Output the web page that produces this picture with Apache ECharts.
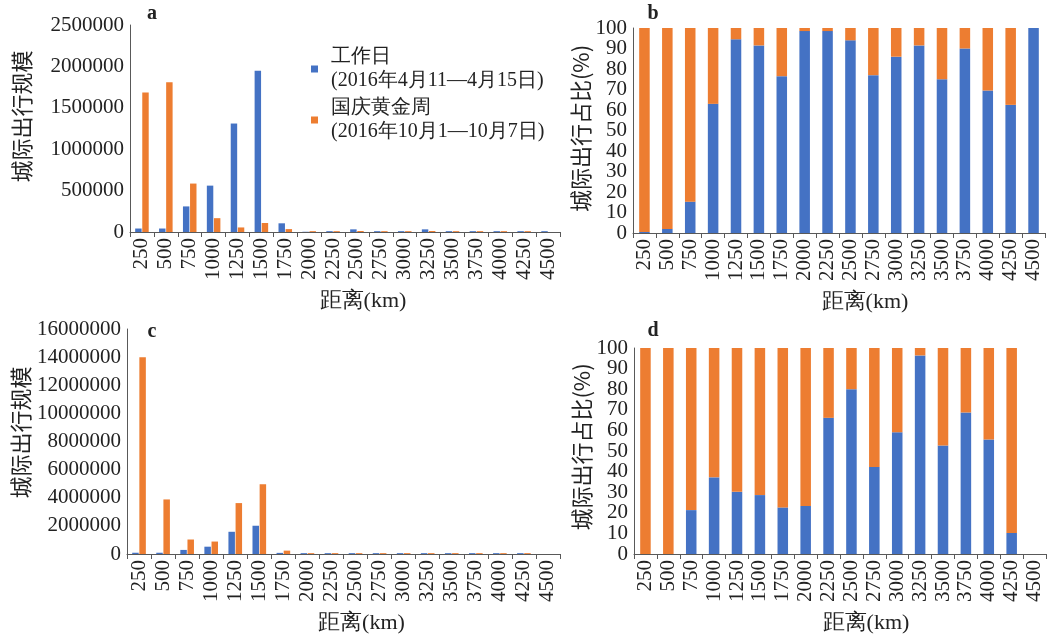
<!DOCTYPE html>
<html><head><meta charset="utf-8">
<script src="https://cdn.jsdelivr.net/npm/echarts@6/dist/echarts.min.js"></script>
<style>html,body{margin:0;padding:0;background:#fff}#c{width:1051px;height:636px}</style>
</head><body><div id="c"></div>
<script>
const categories = ['250','500','750','1000','1250','1500','1750','2000','2250','2500','2750','3000','3250','3500','3750','4000','4250','4500'];
const seriesNames = ['工作日', '国庆黄金周'];
const legendSubtitles = ['(2016年4月11—4月15日)', '(2016年10月1—10月7日)'];
const panelLetters = ['a', 'b', 'c', 'd'];
const volumeTitle = '城际出行规模';
const shareTitle = '城际出行占比(%)';
const distanceTitle = '距离(km)';

// panel a: volume (trips)
const workdayVolumeA = [42000, 42000, 309000, 560000, 1310000, 1947000, 105000, 3000, 10000, 32000, 10000, 10000, 32000, 10000, 10000, 10000, 10000, 10000];
const holidayVolumeA = [1686000, 1810000, 585000, 167000, 55000, 109000, 35000, 10000, 10000, 12000, 10000, 10000, 12000, 10000, 10000, 10000, 10000, 0];
// panel b: share (%)
const workdayShareB = [0.5, 2, 15.3, 63, 94.5, 91.5, 76.5, 98.5, 98.5, 94, 77, 86, 91.5, 75, 90, 69.5, 62.5, 100];
const holidayShareB = [99.5, 98, 84.7, 37, 5.5, 8.5, 23.5, 1.5, 1.5, 6, 23, 14, 8.5, 25, 10, 30.5, 37.5, 0];
// panel c: volume (trips)
const workdayVolumeC = [90000, 90000, 290000, 520000, 1580000, 2010000, 80000, 60000, 60000, 60000, 60000, 60000, 60000, 60000, 60000, 60000, 60000, 0];
const holidayVolumeC = [14000000, 3880000, 1030000, 885000, 3620000, 4960000, 240000, 60000, 60000, 60000, 60000, 60000, 60000, 60000, 60000, 60000, 60000, 0];
// panel d: share (%)
const workdayShareD = [0, 0, 21.3, 37.2, 30.2, 28.6, 22.6, 23.3, 66.1, 80, 42.2, 59.1, 96.4, 52.7, 68.7, 55.6, 10.2, 0];
const holidayShareD = [100, 100, 78.7, 62.8, 69.8, 71.4, 77.4, 76.7, 33.9, 20, 57.8, 40.9, 3.6, 47.3, 31.3, 44.4, 89.8, 0];

const BLUE = '#4472C4', ORANGE = '#ED7D31';
const SERIF = 'Liberation Serif';
const CJK = 'Noto Sans CJK SC';
const AXIS_COLOR = '#595959';

const grids = [
  {left: 130, top: 25, width: 430, height: 207},
  {left: 633, top: 28, width: 412, height: 205},
  {left: 127, top: 329, width: 433, height: 225},
  {left: 634, top: 348, width: 412, height: 206}
];
// share panels: main axis labels every 20, companion axis labels the odd tens
const yConf = [
  {max: 2500000, interval: 500000, name: volumeTitle, gap: 97, up: 24},
  {max: 100, interval: 20, name: shareTitle, gap: 36, up: 4},
  {max: 16000000, interval: 2000000, name: volumeTitle, gap: 95, up: 18},
  {max: 100, interval: 20, name: shareTitle, gap: 37, up: 8}
];
const xShift = [36, 52, 36, 52];

const labelBase = {fontSize: 21, fontFamily: SERIF, color: '#222', margin: 6,
  showMinLabel: true, showMaxLabel: true, hideOverlap: false};

const xAxes = grids.map((g, i) => ({
  type: 'category', gridIndex: i, data: categories,
  axisLine: {lineStyle: {color: AXIS_COLOR, width: 1}},
  axisTick: {show: true, length: 5, lineStyle: {color: AXIS_COLOR}},
  axisLabel: {interval: 0, rotate: 90, fontSize: 21, fontFamily: SERIF, color: '#222', margin: 6, hideOverlap: false},
  name: distanceTitle, nameLocation: 'middle', nameGap: 58,
  nameTextStyle: {fontSize: 22, fontFamily: SERIF, color: '#222', padding: [0, 0, 0, xShift[i]]}
}));
const yAxes = yConf.map((c, i) => ({
  type: 'value', gridIndex: i, min: 0, max: c.max, interval: c.interval,
  splitLine: {show: false},
  axisLine: {show: true, lineStyle: {color: AXIS_COLOR, width: 1}},
  axisTick: {show: false},
  axisLabel: Object.assign({}, labelBase, {formatter: v => String(v)}),
  name: c.name, nameLocation: 'middle', nameGap: c.gap, nameRotate: 90,
  nameTextStyle: {fontSize: 22, fontFamily: CJK, color: '#222', padding: [0, 0, 0, c.up]}
}));
[1, 3].forEach(gi => yAxes.push({
  type: 'value', gridIndex: gi, min: 0, max: 100, interval: 10, position: 'left',
  splitLine: {show: false}, axisLine: {show: false}, axisTick: {show: false},
  axisLabel: Object.assign({}, labelBase, {formatter: v => (v % 20 === 10 ? String(v) : '')})
}));

function clustered(idx, name, data, color) {
  return {type: 'bar', name: name, xAxisIndex: idx, yAxisIndex: idx, data: data,
    barWidth: '27%', barGap: '10%', itemStyle: {color: color}, emphasis: {disabled: true}};
}
function stacked(idx, name, data, color) {
  return {type: 'bar', name: name, xAxisIndex: idx, yAxisIndex: idx, data: data, stack: 's' + idx,
    barWidth: '46%', itemStyle: {color: color}, emphasis: {disabled: true}};
}

const letterPos = [[152, 14], [653, 14], [152, 332], [653, 331]];

const option = {
  animation: false,
  backgroundColor: '#fff',
  grid: grids,
  xAxis: xAxes,
  yAxis: yAxes,
  legend: {
    data: seriesNames, orient: 'vertical', left: 306, top: 40,
    icon: 'rect', itemWidth: 7, itemHeight: 7, itemGap: 3,
    formatter: n => n + '\n' + legendSubtitles[seriesNames.indexOf(n)],
    textStyle: {fontSize: 20, lineHeight: 24, fontFamily: SERIF, color: '#222', padding: [0, 0, 0, 8]}
  },
  graphic: panelLetters.map((t, i) => ({
    type: 'text', x: letterPos[i][0], y: letterPos[i][1],
    style: {text: t, font: 'bold 20px Liberation Serif, serif', fill: '#222', align: 'center', verticalAlign: 'middle'}
  })),
  series: [
    clustered(0, seriesNames[0], workdayVolumeA, BLUE),
    clustered(0, seriesNames[1], holidayVolumeA, ORANGE),
    stacked(1, seriesNames[0], workdayShareB, BLUE),
    stacked(1, seriesNames[1], holidayShareB, ORANGE),
    clustered(2, seriesNames[0], workdayVolumeC, BLUE),
    clustered(2, seriesNames[1], holidayVolumeC, ORANGE),
    stacked(3, seriesNames[0], workdayShareD, BLUE),
    stacked(3, seriesNames[1], holidayShareD, ORANGE)
  ]
};
const chart = echarts.init(document.getElementById('c'), null, {renderer: 'canvas'});
chart.setOption(option);
</script>
</body></html>
